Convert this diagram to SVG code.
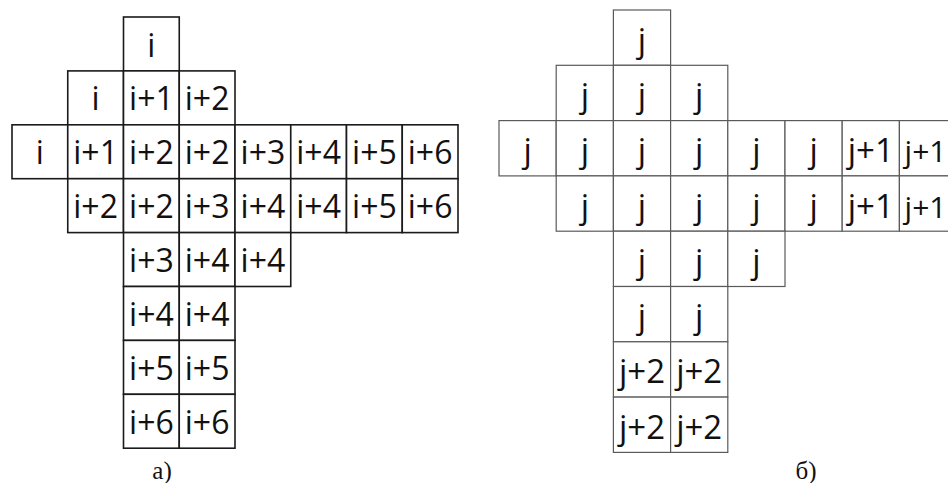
<svg xmlns="http://www.w3.org/2000/svg" width="948" height="483" viewBox="0 0 948 483">
<style>
.a rect{fill:#fff;stroke:#1a1a1a;stroke-width:1.6}
.b rect{fill:#fff;stroke:#5a5a5a;stroke-width:1.2}
.a text{font-family:"Open Sans","Noto Sans",sans-serif;font-size:32px;fill:#111;text-anchor:middle}
.b text{font-family:"Open Sans","Noto Sans",sans-serif;font-size:33px;fill:#111;text-anchor:middle}
.b text.edge{text-anchor:end;font-size:30px}
.lbl{font-family:"Liberation Serif",serif;font-size:25px;fill:#111;text-anchor:middle}
</style>
<rect width="948" height="483" fill="#fff"/>
<g id="gridA" class="a">
<g id="a-r0c2"><rect x="123.5" y="17" width="55.75" height="53.9"/><text x="151.4" y="56.5">i</text></g>
<g id="a-r1c1"><rect x="67.75" y="70.9" width="55.75" height="53.9"/><text x="95.6" y="110.4">i</text></g>
<g id="a-r1c2"><rect x="123.5" y="70.9" width="55.75" height="53.9"/><text x="151.4" y="110.4">i+1</text></g>
<g id="a-r1c3"><rect x="179.25" y="70.9" width="55.75" height="53.9"/><text x="207.1" y="110.4">i+2</text></g>
<g id="a-r2c0"><rect x="12" y="124.8" width="55.75" height="53.9"/><text x="39.9" y="164.3">i</text></g>
<g id="a-r2c1"><rect x="67.75" y="124.8" width="55.75" height="53.9"/><text x="95.6" y="164.3">i+1</text></g>
<g id="a-r2c2"><rect x="123.5" y="124.8" width="55.75" height="53.9"/><text x="151.4" y="164.3">i+2</text></g>
<g id="a-r2c3"><rect x="179.25" y="124.8" width="55.75" height="53.9"/><text x="207.1" y="164.3">i+2</text></g>
<g id="a-r2c4"><rect x="235" y="124.8" width="55.75" height="53.9"/><text x="262.9" y="164.3">i+3</text></g>
<g id="a-r2c5"><rect x="290.75" y="124.8" width="55.75" height="53.9"/><text x="318.6" y="164.3">i+4</text></g>
<g id="a-r2c6"><rect x="346.5" y="124.8" width="55.75" height="53.9"/><text x="374.4" y="164.3">i+5</text></g>
<g id="a-r2c7"><rect x="402.25" y="124.8" width="55.75" height="53.9"/><text x="430.1" y="164.3">i+6</text></g>
<g id="a-r3c1"><rect x="67.75" y="178.7" width="55.75" height="53.9"/><text x="95.6" y="218.2">i+2</text></g>
<g id="a-r3c2"><rect x="123.5" y="178.7" width="55.75" height="53.9"/><text x="151.4" y="218.2">i+2</text></g>
<g id="a-r3c3"><rect x="179.25" y="178.7" width="55.75" height="53.9"/><text x="207.1" y="218.2">i+3</text></g>
<g id="a-r3c4"><rect x="235" y="178.7" width="55.75" height="53.9"/><text x="262.9" y="218.2">i+4</text></g>
<g id="a-r3c5"><rect x="290.75" y="178.7" width="55.75" height="53.9"/><text x="318.6" y="218.2">i+4</text></g>
<g id="a-r3c6"><rect x="346.5" y="178.7" width="55.75" height="53.9"/><text x="374.4" y="218.2">i+5</text></g>
<g id="a-r3c7"><rect x="402.25" y="178.7" width="55.75" height="53.9"/><text x="430.1" y="218.2">i+6</text></g>
<g id="a-r4c2"><rect x="123.5" y="232.6" width="55.75" height="53.9"/><text x="151.4" y="272.1">i+3</text></g>
<g id="a-r4c3"><rect x="179.25" y="232.6" width="55.75" height="53.9"/><text x="207.1" y="272.1">i+4</text></g>
<g id="a-r4c4"><rect x="235" y="232.6" width="55.75" height="53.9"/><text x="262.9" y="272.1">i+4</text></g>
<g id="a-r5c2"><rect x="123.5" y="286.5" width="55.75" height="53.9"/><text x="151.4" y="326">i+4</text></g>
<g id="a-r5c3"><rect x="179.25" y="286.5" width="55.75" height="53.9"/><text x="207.1" y="326">i+4</text></g>
<g id="a-r6c2"><rect x="123.5" y="340.4" width="55.75" height="53.9"/><text x="151.4" y="379.9">i+5</text></g>
<g id="a-r6c3"><rect x="179.25" y="340.4" width="55.75" height="53.9"/><text x="207.1" y="379.9">i+5</text></g>
<g id="a-r7c2"><rect x="123.5" y="394.3" width="55.75" height="53.9"/><text x="151.4" y="433.8">i+6</text></g>
<g id="a-r7c3"><rect x="179.25" y="394.3" width="55.75" height="53.9"/><text x="207.1" y="433.8">i+6</text></g>
</g>
<g id="gridB" class="b">
<g id="b-r0c2"><rect x="613.4" y="10" width="57.2" height="55.3"/><text x="642" y="51.6">j</text></g>
<g id="b-r1c1"><rect x="556.2" y="65.3" width="57.2" height="55.3"/><text x="584.8" y="106.9">j</text></g>
<g id="b-r1c2"><rect x="613.4" y="65.3" width="57.2" height="55.3"/><text x="642" y="106.9">j</text></g>
<g id="b-r1c3"><rect x="670.6" y="65.3" width="57.2" height="55.3"/><text x="699.2" y="106.9">j</text></g>
<g id="b-r2c0"><rect x="499" y="120.6" width="57.2" height="55.3"/><text x="527.6" y="162.2">j</text></g>
<g id="b-r2c1"><rect x="556.2" y="120.6" width="57.2" height="55.3"/><text x="584.8" y="162.2">j</text></g>
<g id="b-r2c2"><rect x="613.4" y="120.6" width="57.2" height="55.3"/><text x="642" y="162.2">j</text></g>
<g id="b-r2c3"><rect x="670.6" y="120.6" width="57.2" height="55.3"/><text x="699.2" y="162.2">j</text></g>
<g id="b-r2c4"><rect x="727.8" y="120.6" width="57.2" height="55.3"/><text x="756.4" y="162.2">j</text></g>
<g id="b-r2c5"><rect x="785" y="120.6" width="57.2" height="55.3"/><text x="813.6" y="162.2">j</text></g>
<g id="b-r2c6"><rect x="842.2" y="120.6" width="57.2" height="55.3"/><text x="870.8" y="162.2">j+1</text></g>
<g id="b-r2c7"><rect x="899.4" y="120.6" width="57.2" height="55.3"/><text class="edge" x="946.5" y="162.2">j+1</text></g>
<g id="b-r3c1"><rect x="556.2" y="175.9" width="57.2" height="55.3"/><text x="584.8" y="217.5">j</text></g>
<g id="b-r3c2"><rect x="613.4" y="175.9" width="57.2" height="55.3"/><text x="642" y="217.5">j</text></g>
<g id="b-r3c3"><rect x="670.6" y="175.9" width="57.2" height="55.3"/><text x="699.2" y="217.5">j</text></g>
<g id="b-r3c4"><rect x="727.8" y="175.9" width="57.2" height="55.3"/><text x="756.4" y="217.5">j</text></g>
<g id="b-r3c5"><rect x="785" y="175.9" width="57.2" height="55.3"/><text x="813.6" y="217.5">j</text></g>
<g id="b-r3c6"><rect x="842.2" y="175.9" width="57.2" height="55.3"/><text x="870.8" y="217.5">j+1</text></g>
<g id="b-r3c7"><rect x="899.4" y="175.9" width="57.2" height="55.3"/><text class="edge" x="946.5" y="217.5">j+1</text></g>
<g id="b-r4c2"><rect x="613.4" y="231.2" width="57.2" height="55.3"/><text x="642" y="272.8">j</text></g>
<g id="b-r4c3"><rect x="670.6" y="231.2" width="57.2" height="55.3"/><text x="699.2" y="272.8">j</text></g>
<g id="b-r4c4"><rect x="727.8" y="231.2" width="57.2" height="55.3"/><text x="756.4" y="272.8">j</text></g>
<g id="b-r5c2"><rect x="613.4" y="286.5" width="57.2" height="55.3"/><text x="642" y="328.1">j</text></g>
<g id="b-r5c3"><rect x="670.6" y="286.5" width="57.2" height="55.3"/><text x="699.2" y="328.1">j</text></g>
<g id="b-r6c2"><rect x="613.4" y="341.8" width="57.2" height="55.3"/><text x="642" y="383.4">j+2</text></g>
<g id="b-r6c3"><rect x="670.6" y="341.8" width="57.2" height="55.3"/><text x="699.2" y="383.4">j+2</text></g>
<g id="b-r7c2"><rect x="613.4" y="397.1" width="57.2" height="55.3"/><text x="642" y="438.7">j+2</text></g>
<g id="b-r7c3"><rect x="670.6" y="397.1" width="57.2" height="55.3"/><text x="699.2" y="438.7">j+2</text></g>
</g>
<g id="labels">
<text class="lbl" x="162" y="479">а)</text>
<text class="lbl" x="806" y="479">б)</text>
</g>
</svg>
